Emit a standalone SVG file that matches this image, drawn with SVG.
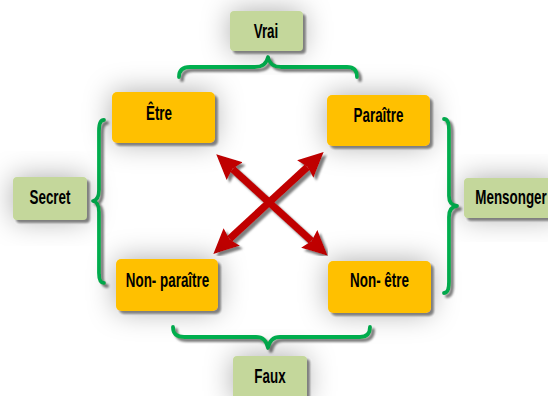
<svg xmlns="http://www.w3.org/2000/svg" width="548" height="396" viewBox="0 0 548 396">
<defs>
<filter id="sh" x="-60%" y="-60%" width="220%" height="220%">
<feGaussianBlur in="SourceAlpha" stdDeviation="14" result="b1"/>
<feFlood flood-color="#000" flood-opacity="0.33"/>
<feComposite in2="b1" operator="in" result="soft"/>
<feOffset in="SourceAlpha" dx="3" dy="3" result="o"/>
<feGaussianBlur in="o" stdDeviation="0.8" result="ob"/>
<feFlood flood-color="#7f7f7f"/>
<feComposite in2="ob" operator="in" result="hard"/>
<feMerge><feMergeNode in="soft"/><feMergeNode in="hard"/><feMergeNode in="SourceGraphic"/></feMerge>
</filter>
<filter id="ls" x="-20%" y="-20%" width="140%" height="140%">
<feOffset in="SourceAlpha" dx="3" dy="3" result="o"/>
<feGaussianBlur in="o" stdDeviation="0.8" result="ob"/>
<feFlood flood-color="#7f7f7f"/>
<feComposite in2="ob" operator="in" result="hard"/>
<feMerge><feMergeNode in="hard"/><feMergeNode in="SourceGraphic"/></feMerge>
</filter>
<marker id="ah" viewBox="-3 -13 26 26" refX="0" refY="0" markerWidth="26" markerHeight="26" markerUnits="userSpaceOnUse" orient="auto-start-reverse">
<path d="M-3,-12 L22,0 L-3,12 L0,0 z" fill="#C00000"/>
</marker>
</defs>
<style>
.o{fill:#FFC000}
.g{fill:#C4D79B}
.t{font-family:"Liberation Sans",Arial,sans-serif;font-weight:bold;font-size:20px;fill:#000;text-anchor:middle}
.br{fill:none;stroke:#00B050;stroke-width:3.8;stroke-linecap:round;stroke-linejoin:round}
.ar{fill:none;stroke:#C00000;stroke-width:7.5}
</style>
<rect width="548" height="396" fill="#fff"/>
<g id="connectors">
<g filter="url(#ls)">
<line class="ar" x1="232.5" y1="169" x2="311.5" y2="241" marker-start="url(#ah)" marker-end="url(#ah)"/>
<line class="ar" x1="307.5" y1="167" x2="229.5" y2="239" marker-start="url(#ah)" marker-end="url(#ah)"/>
</g>
<g filter="url(#ls)">
<path class="br" d="M179,77 Q179,67 190,67 L255,67 Q266,67 268,57 Q270,67 281,67 L347,67 Q357,67 357,77"/>
<path class="br" d="M173,327 Q173,337 184,337 L256,337 Q266,337 268,348 Q270,337 280,337 L360,337 Q370,337 370,327"/>
<path class="br" d="M104,120 Q99,120 99,131 L99,190 Q99,200 93,201 Q99,202 99,212 L99,273 Q99,283 104,283"/>
<path class="br" d="M444,119 Q449,119 449,130 L449,196 Q449,205 457,206 Q449,207 449,217 L449,282 Q449,293 444,293"/>
</g>
</g>
<g id="etre" filter="url(#sh)"><rect class="o" x="112" y="92" width="103" height="51" rx="5"/></g>
<g id="paraitre" filter="url(#sh)"><rect class="o" x="327" y="95" width="103" height="51" rx="5"/></g>
<g id="nonparaitre" filter="url(#sh)"><rect class="o" x="116" y="259" width="102" height="52" rx="5"/></g>
<g id="nonetre" filter="url(#sh)"><rect class="o" x="328" y="261" width="103" height="52" rx="5"/></g>
<g id="vrai" filter="url(#sh)"><rect class="g" x="230" y="11" width="73" height="40" rx="4"/></g>
<g id="secret" filter="url(#sh)"><rect class="g" x="13" y="177" width="74" height="43" rx="4"/></g>
<g id="mensonger" filter="url(#sh)"><rect class="g" x="464" y="178" width="95" height="40" rx="4"/></g>
<g id="faux" filter="url(#sh)"><rect class="g" x="233" y="356" width="74" height="45" rx="4"/></g>
<g id="labels">
<text class="t" transform="translate(159,120) scale(0.67,1)" x="0" y="0">Être</text>
<text class="t" transform="translate(378.5,122) scale(0.67,1)" x="0" y="0">Paraître</text>
<text class="t" transform="translate(167.5,287) scale(0.67,1)" x="0" y="0">Non- paraître</text>
<text class="t" transform="translate(379.5,287) scale(0.67,1)" x="0" y="0">Non- être</text>
<text class="t" transform="translate(266,38) scale(0.67,1)" x="0" y="0">Vrai</text>
<text class="t" transform="translate(50,204) scale(0.67,1)" x="0" y="0">Secret</text>
<text class="t" transform="translate(511,204) scale(0.67,1)" x="0" y="0">Mensonger</text>
<text class="t" transform="translate(270,383) scale(0.67,1)" x="0" y="0">Faux</text>
</g>
</svg>
